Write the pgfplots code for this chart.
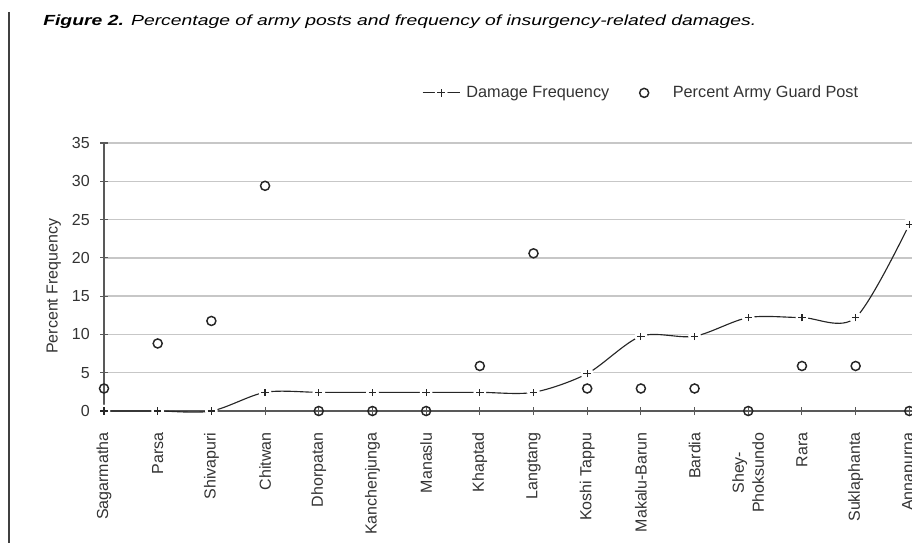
\documentclass[border=0pt]{standalone}
\usepackage{fontspec}
\setmainfont{Liberation Sans}
\newfontfamily\titlefont[FakeStretch=1.32]{Liberation Sans}
\usepackage{pgfplots}
\pgfplotsset{compat=1.18}
\pgfdeclareplotmark{gapplus}{%
  \begin{pgfscope}%
  \pgfsetfillcolor{white}%
  \pgfpathcircle{\pgfpointorigin}{1.7\pgfplotmarksize}%
  \pgfusepathqfill
  \end{pgfscope}%
  \pgfpathmoveto{\pgfqpoint{-\pgfplotmarksize}{0pt}}%
  \pgfpathlineto{\pgfqpoint{\pgfplotmarksize}{0pt}}%
  \pgfpathmoveto{\pgfqpoint{0pt}{-\pgfplotmarksize}}%
  \pgfpathlineto{\pgfqpoint{0pt}{\pgfplotmarksize}}%
  \pgfusepathqstroke
}
\pgfplotsset{
  longline legend/.style={legend image code/.code={\draw[mark repeat=2,mark phase=2,##1] plot coordinates {(0pt,0pt)(14pt,0pt)(28pt,0pt)};}},
  wide mark legend/.style={legend image code/.code={\path[draw=none,fill=none] (-3pt,0pt) -- (17pt,0pt); \draw[##1] plot coordinates {(0pt,0pt)};}},
}
\begin{document}
\begin{tikzpicture}
\useasboundingbox (0,0) rectangle (684pt,-406.5pt);
\clip (0,0) rectangle (684pt,-406.5pt);
\draw[black!75, line width=1.5pt] (6.75pt,-9pt) -- (6.75pt,-410pt);
\node[anchor=base west, inner sep=0pt, font=\titlefont\fontsize{11}{13}\selectfont] at (32.25pt,-19.5pt)
  {\textbf{\textit{Figure 2.}} \textit{Percentage of army posts and frequency of insurgency-related damages.}};
\begin{axis}[
  at={(78pt,-308.25pt)}, anchor=south west,
  scale only axis, width=606.4pt, height=201pt,
  xmin=0, xmax=15.06, ymin=0, ymax=35,
  clip=false,
  axis lines=left, axis line style={-, black!65, line width=1pt},
  xtick={0,...,15},
  xticklabels={Sagarmatha,Parsa,Shivapuri,Chitwan,Dhorpatan,Kanchenjunga,Manaslu,Khaptad,Langtang,Koshi Tappu,Makalu-Barun,Bardia,{Shey-\\Phoksundo},Rara,Suklaphanta,Annapurna},
  ytick={0,5,...,35},
  /pgf/number format/assume math mode=true,
  tick align=center, major tick length=6pt,
  tick style={black!65, line width=0.8pt},
  ymajorgrids, grid style={black!22, line width=1pt},
  every tick label/.append style={font=\fontsize{12}{15}\selectfont, text=black!80},
  xticklabel style={rotate=90, anchor=east, inner sep=0pt, align=center},
  xticklabel shift=13pt,
  yticklabel style={inner sep=0pt},
  yticklabel shift=7.5pt,
  ylabel={Percent Frequency},
  ylabel style={at={(axis description cs:-0.062,0.466)}, anchor=center, font=\fontsize{12}{14}\selectfont, text=black!80},
  legend columns=2,
  legend style={draw=none, fill=none, at={(0.388,1.187)}, anchor=west,
    font=\fontsize{12.2}{14}\selectfont, text=black!80,
    /tikz/every odd column/.append style={column sep=2.5pt},
    /tikz/every even column/.append style={column sep=20.75pt}},
]
\addplot[smooth, black!85, line width=0.85pt, mark=gapplus, mark size=2.8pt, longline legend]
  coordinates {(0,0)(1,0)(2,0)(3,2.44)(4,2.44)(5,2.44)(6,2.44)(7,2.44)(8,2.44)(9,4.88)(10,9.76)(11,9.76)(12,12.2)(13,12.2)(14,12.2)(15,24.39)};
\addlegendentry{Damage Frequency}
\addplot[only marks, mark=o, mark size=3.4pt, mark options={draw=black!85, fill=white, line width=1.1pt}, wide mark legend]
  coordinates {(0,2.94)(1,8.82)(2,11.76)(3,29.41)(4,0)(5,0)(6,0)(7,5.88)(8,20.59)(9,2.94)(10,2.94)(11,2.94)(12,0)(13,5.88)(14,5.88)(15,0)};
\addlegendentry{Percent Army Guard Post}
\end{axis}
\end{tikzpicture}
\end{document}
